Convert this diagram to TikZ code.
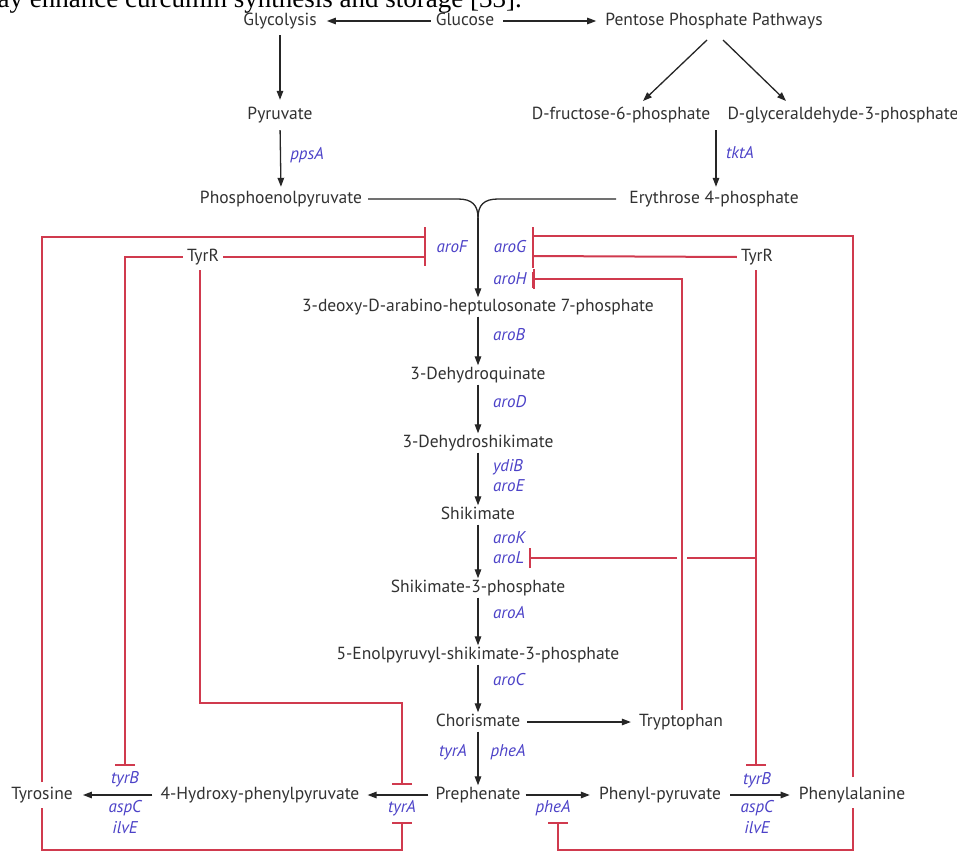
\documentclass[tikz,border=0pt]{standalone}
\usepackage{fontspec}
\setmainfont{PT Sans}
\newfontfamily\serifx{Liberation Serif}
\usetikzlibrary{arrows.meta,calc}
\definecolor{inhred}{RGB}{208,58,78}
\definecolor{geneblue}{RGB}{76,66,200}
\definecolor{txtgray}{RGB}{50,50,50}
\begin{document}
\begin{tikzpicture}[x=1pt,y=-1pt,
  met/.style={font=\fontsize{17.5}{20}\selectfont, text=txtgray, inner sep=1pt, text height=13pt, text depth=4pt},
  gene/.style={font=\fontsize{17}{19}\selectfont\itshape, text=geneblue, inner sep=1pt},
  rx/.style={-{Triangle[length=9pt,width=6.5pt]}, line width=1.3pt, draw=black!85},
  plain/.style={line width=1.3pt, draw=black!85},
  inh/.style={draw=inhred, line width=2pt},
  inhbar/.style={inh, -{Bar[width=20pt,line width=2pt]}},
  barline/.style={draw=inhred, line width=2pt},
]
\useasboundingbox (0,0) rectangle (957,853);
\clip (0,0) rectangle (957,853);
\fill[white] (0,0) rectangle (957,853);

% clipped caption line at top
\node[anchor=base east, font=\serifx\fontsize{27}{30}\selectfont, inner sep=0pt] (cap) at (522,8) {may enhance curcumin synthesis and storage [33].};

% metabolites
\node[met] (glyc) at (280,21) {Glycolysis};
\node[met] (gluc) at (465,21) {Glucose};
\node[met] (ppp) at (714,21) {Pentose Phosphate Pathways};
\node[met] (pyr) at (280,115) {Pyruvate};
\node[met] (pep) at (281,199) {Phosphoenolpyruvate};
\node[met] (f6p) at (621,115) {D-fructose-6-phosphate};
\node[met] (g3p) at (843,115) {D-glyceraldehyde-3-phosphate};
\node[met] (e4p) at (714,199) {Erythrose 4-phosphate};
\node[met] (dahp) at (478,307) {3-deoxy-D-arabino-heptulosonate 7-phosphate};
\node[met] (dhq) at (478,375) {3-Dehydroquinate};
\node[met] (dhs) at (478,443) {3-Dehydroshikimate};
\node[met] (shik) at (478,515) {Shikimate};
\node[met] (s3p) at (478,588) {Shikimate-3-phosphate};
\node[met] (epsp) at (478,655) {5-Enolpyruvyl-shikimate-3-phosphate};
\node[met] (chor) at (478,722) {Chorismate};
\node[met] (trp) at (681,722) {Tryptophan};
\node[met] (preph) at (478,795) {Prephenate};
\node[met] (hpp) at (260,795) {4-Hydroxy-phenylpyruvate};
\node[met] (tyr) at (42,795) {Tyrosine};
\node[met] (phpyr) at (660,795) {Phenyl-pyruvate};
\node[met] (phe) at (852,795) {Phenylalanine};
\node[met] (tyrRL) at (203,257) {TyrR};
\node[met] (tyrRR) at (757,257) {TyrR};

% genes
\node[gene] (ppsA) at (307,155) {ppsA};
\node[gene] (tktA) at (740,153) {tktA};
\node[gene] (aroF) at (452,247) {aroF};
\node[gene] (aroG) at (510,247) {aroG};
\node[gene] (aroH) at (510,279) {aroH};
\node[gene, anchor=west] (aroB) at (492,335) {aroB};
\node[gene, anchor=west] (aroD) at (492,402) {aroD};
\node[gene, anchor=west] (ydiB) at (492,467) {ydiB};
\node[gene, anchor=west] (aroE) at (492,486) {aroE};
\node[gene, anchor=west] (aroK) at (492,538) {aroK};
\node[gene, anchor=west] (aroL) at (492,558) {aroL};
\node[gene, anchor=west] (aroA) at (492,613) {aroA};
\node[gene, anchor=west] (aroC) at (492,680) {aroC};
\node[gene] (tyrA1) at (453,752) {tyrA};
\node[gene] (pheA1) at (508,752) {pheA};
\node[gene] (tyrA2) at (402,808) {tyrA};
\node[gene] (pheA2) at (553,808) {pheA};
\node[gene] (tyrBL) at (125,779) {tyrB};
\node[gene] (aspCL) at (125,808) {aspC};
\node[gene] (ilvEL) at (125,828) {ilvE};
\node[gene] (tyrBR) at (757,780) {tyrB};
\node[gene] (aspCR) at (757,808) {aspC};
\node[gene] (ilvER) at (757,828) {ilvE};

% black reactions
\draw[rx, shorten <=4pt, shorten >=9pt] (gluc.west) -- (glyc.east);
\draw[rx, shorten <=8pt, shorten >=8pt] (gluc.east) -- (ppp.west);
\draw[rx, shorten <=4.5pt, shorten >=5.5pt] (glyc.south) -- (pyr.north);
\draw[rx, shorten <=5.5pt, shorten >=2.5pt] (pyr.south) -- (pep.north);
\coordinate (pppL) at (707,40);
\coordinate (pppR) at (723,40);
\draw[rx] (pppL) -- (643,101);
\draw[rx] (pppR) -- (786,101);
\draw[rx, shorten <=5.5pt, shorten >=2.5pt] (f6p.south -| 716,0) -- (e4p.north -| 716,0);
\coordinate (merge) at (478,218);
\draw[plain, shorten <=5pt] (pep.east) -- (458,199) .. controls (472,199) and (478,205) .. (merge);
\draw[plain, shorten <=12pt] (e4p.west) -- (498,199) .. controls (484,199) and (478,205) .. (merge);
\draw[rx] (merge) -- (dahp.north);
\draw[rx] (dahp) -- (dhq);
\draw[rx] (dhq) -- (dhs);
\draw[rx] (dhs) -- (shik);
\draw[rx] (shik) -- (s3p);
\draw[rx] (s3p) -- (epsp);
\draw[rx] (epsp) -- (chor);
\draw[rx] (chor) -- (preph);
\draw[rx, shorten <=6pt, shorten >=7pt] (chor.east) -- (trp.west);
\draw[rx, shorten <=6pt, shorten >=7pt] (preph.west) -- (hpp.east);
\draw[rx, shorten <=7pt, shorten >=9pt] (hpp.west) -- (tyr.east);
\draw[rx, shorten <=4pt, shorten >=8pt] (preph.east) -- (phpyr.west);
\draw[rx, shorten <=8pt, shorten >=8pt] (phpyr.east) -- (phe.west);

% inhibition bars
\draw[barline] (425,227) -- (425,266);
\draw[barline] (533,227) -- (533,268);
\draw[barline] (533,272) -- (533,288);

% red inhibition lines
\draw[inh] (42,782) -- (42,237) -- (425,237);
\draw[inhbar] (42,808) -- (42,850) -- (402,850) -- (402,822);
\draw[inhbar] (tyrRL.west) ++(-3,0) -- (125,257) -- (125,766);
\draw[inh] (tyrRL.east) ++(3,0) -- (425,257);
\draw[inhbar] (200,270) -- (200,703) -- (402,703) -- (402,785);
\draw[inh] (853,777) -- (853,236) -- (533,236);
\draw[inh] (tyrRR.west) ++(-3,0) -- (533,256);
\draw[inhbar] (trp.north -| 682,0) ++(0,-2) -- (682,279) -- (533,279);
\draw[inhbar] (756,270) -- (756,766);
\draw[inhbar] (756,558) -- (687,558) (677,558) -- (529,558);
\draw[inhbar] (853,808) -- (853,850) -- (558,850) -- (558,822);
\end{tikzpicture}
\end{document}
